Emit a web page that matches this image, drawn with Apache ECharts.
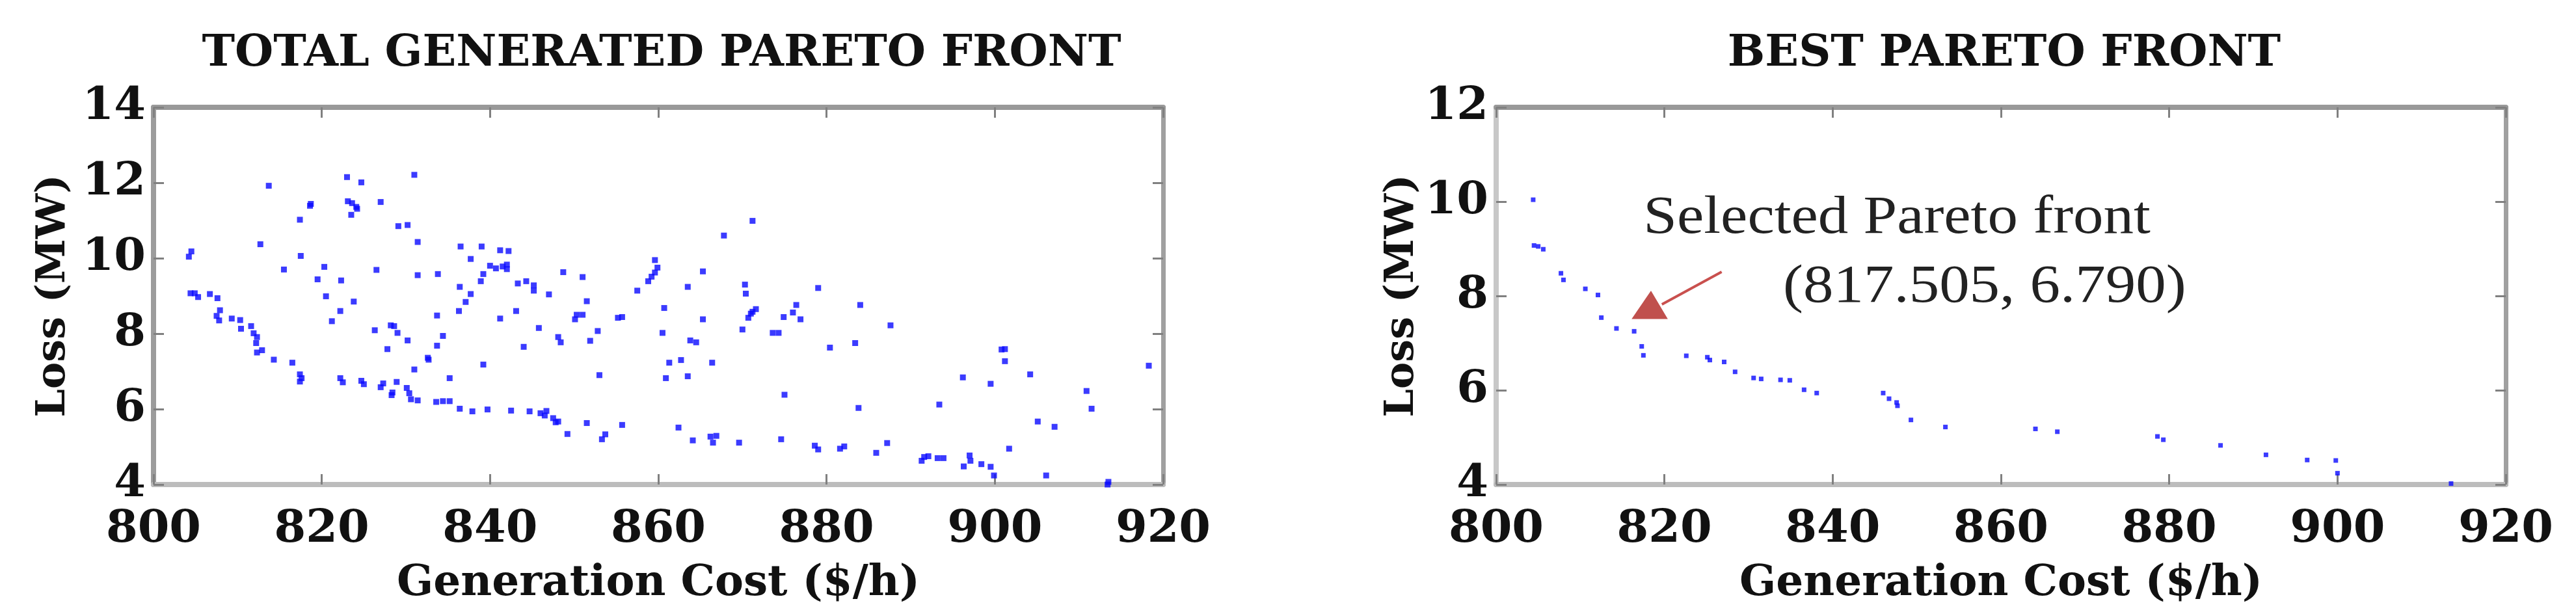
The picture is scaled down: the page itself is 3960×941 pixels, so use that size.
<!DOCTYPE html>
<html>
<head>
<meta charset="utf-8">
<script src="https://cdn.jsdelivr.net/npm/echarts@6.0.0/dist/echarts.min.js"></script>
<style>
  html, body { margin: 0; padding: 0; background: #fff; }
  #main { width: 3960px; height: 941px; }
</style>
</head>
<body>
<div id="main"></div>
<script>
// all generated solutions (left panel)
var totalCost = [
  823.0, 824.7, 831.0, 813.7, 818.7, 818.6, 823.1, 823.6, 824.1, 824.2, 823.5, 827.0, 817.4, 829.1, 830.2, 831.4,
  812.7, 804.2, 804.5, 817.5, 820.3, 815.5, 819.5, 822.3, 826.5, 831.4, 833.8, 836.5, 839.0, 837.7, 841.2, 842.2,
  840.0, 840.7, 841.5, 842.0, 842.0, 839.2, 838.9, 836.4, 837.7, 837.1, 836.3, 843.3, 844.3, 845.2, 845.2, 847.0,
  848.7, 851.0, 851.5, 857.5, 858.8, 859.2, 859.6, 859.9, 859.6, 865.3, 863.5, 867.8, 860.7, 865.3, 860.5, 850.1,
  850.3, 851.0, 855.2, 855.7, 852.8, 851.9, 845.8, 843.1, 841.2, 844.0, 848.1, 848.4, 839.2, 833.7, 834.4, 833.7,
  832.6, 832.7, 831.0, 835.2, 827.8, 826.3, 828.2, 828.6, 829.0, 830.2, 823.8, 820.5, 822.2, 821.2, 804.4, 804.9,
  805.3, 806.7, 807.6, 807.9, 807.5, 807.8, 809.3, 810.3, 810.4, 811.6, 811.9, 812.3, 812.2, 812.3, 812.9, 814.3,
  816.5, 817.4, 817.6, 817.4, 822.2, 822.5, 824.7, 825.0, 827.0, 827.3, 828.3, 828.4, 828.9, 830.1, 830.4, 830.6,
  831.4, 833.6, 834.4, 835.2, 836.4, 837.9, 839.7, 842.5, 844.7, 846.0, 846.5, 846.7, 847.5, 847.8, 848.1, 849.2,
  851.5, 853.3, 853.7, 855.7, 862.4, 864.1, 866.2, 866.9, 866.5, 853.0, 860.9, 863.5, 861.3, 862.7, 866.4, 863.8,
  864.5, 871.2, 870.3, 870.4, 879.0, 870.7, 871.0, 871.2, 871.6, 870.0, 873.6, 874.3, 874.9, 876.0, 876.4, 876.9,
  884.0, 887.6, 880.4, 883.4, 875.0, 883.8, 893.4, 896.2, 899.5, 900.8, 901.2, 901.2, 904.2, 918.3, 910.9, 911.5,
  905.1, 907.1, 901.7, 906.1, 899.9, 899.5, 898.4, 897.0, 897.1, 896.3, 891.3, 891.6, 892.1, 893.2, 893.9, 913.5,
  913.4, 887.2, 885.9, 881.6, 882.1, 878.6, 879.0, 874.6, 869.6
];
var totalLoss = [
  12.15, 12.01, 12.21, 11.92, 11.44, 11.39, 11.51, 11.46, 11.36, 11.31, 11.15, 11.49, 11.02, 10.85, 10.88, 10.43,
  10.37, 10.04, 10.18, 10.06, 9.77, 9.70, 9.44, 9.41, 9.69, 9.55, 9.58, 10.31, 10.31, 9.98, 10.21, 10.19,
  9.80, 9.73, 9.78, 9.83, 9.71, 9.58, 9.39, 9.24, 9.05, 8.84, 8.60, 9.33, 9.39, 9.28, 9.14, 9.04,
  9.63, 9.50, 8.86, 9.14, 9.39, 9.51, 9.62, 9.75, 9.95, 9.65, 9.24, 10.60, 8.68, 8.38, 8.02, 8.38,
  8.50, 8.50, 8.42, 8.44, 8.07, 7.81, 8.15, 8.60, 8.40, 7.65, 7.91, 7.77, 7.18, 8.48, 7.94, 7.68,
  7.36, 7.31, 7.05, 6.82, 7.59, 8.09, 8.22, 8.20, 8.02, 7.82, 8.85, 8.99, 8.60, 8.33, 9.07, 9.07,
  8.97, 9.05, 8.94, 8.62, 8.47, 8.35, 8.40, 8.36, 8.13, 8.20, 8.01, 7.91, 7.75, 7.50, 7.56, 7.31,
  7.23, 6.92, 6.82, 6.73, 6.82, 6.71, 6.75, 6.66, 6.58, 6.68, 6.37, 6.44, 6.72, 6.56, 6.42, 6.26,
  6.23, 6.19, 6.21, 6.21, 6.01, 5.94, 5.99, 5.96, 5.94, 5.89, 5.83, 5.95, 5.76, 5.65, 5.67, 5.34,
  5.63, 5.20, 5.33, 5.58, 5.51, 5.17, 5.27, 5.29, 5.11, 6.90, 6.82, 6.87, 7.23, 7.30, 7.23, 7.82,
  7.77, 10.99, 9.30, 9.06, 9.21, 8.42, 8.53, 8.58, 8.65, 8.11, 8.02, 8.02, 8.44, 8.56, 8.76, 8.38,
  8.76, 8.22, 7.63, 7.75, 6.38, 6.03, 6.12, 6.84, 6.67, 7.58, 7.59, 7.27, 6.92, 7.15, 6.48, 6.01,
  5.67, 5.53, 4.95, 4.24, 4.24, 4.47, 4.54, 4.77, 4.63, 4.48, 4.63, 4.73, 4.75, 4.70, 4.70, 4.07,
  4.00, 5.10, 4.84, 4.95, 5.01, 5.03, 4.93, 5.20, 5.11
];

// best (non-dominated) front (right panel)
var bestCost = [
  804.4, 804.5, 805.0, 805.6, 807.7, 808.0, 810.6, 812.1, 812.5, 814.3, 816.4, 817.3, 817.5, 822.6, 825.1, 825.4,
  827.1, 828.4, 830.6, 831.5, 833.8, 834.9, 836.6, 838.1, 846.0, 846.7, 847.6, 847.7, 849.3, 853.4, 864.1, 866.7,
  878.6, 879.3, 886.1, 891.5, 896.4, 899.8, 900.0, 913.5
];
var bestLoss = [
  10.04, 9.07, 9.05, 8.99, 8.48, 8.34, 8.15, 8.02, 7.54, 7.31, 7.25, 6.93, 6.74, 6.73, 6.70, 6.64,
  6.60, 6.39, 6.26, 6.24, 6.22, 6.21, 6.01, 5.94, 5.94, 5.82, 5.74, 5.67, 5.37, 5.22, 5.18, 5.12,
  5.02, 4.95, 4.83, 4.63, 4.52, 4.51, 4.24, 4.02
];

var titles = ['TOTAL GENERATED PARETO FRONT', 'BEST PARETO FRONT'];
var xTicks = { min: 800, max: 920, step: 20 };
var yTicksLeft = { min: 4, max: 14, step: 2 };
var yTicksRight = { min: 4, max: 12, step: 2 };
var xName = 'Generation Cost ($/h)';
var yName = 'Loss (MW)';

// annotation on right panel, in data units
var noteLines = ['Selected Pareto front', '(817.505, 6.790)'];
var noteAnchors = [[817.5, 9.64], [834.1, 8.17]];
var arrowTail = [826.8, 8.51];
var arrowJoin = [819.7, 7.82];
var arrowHead = [[818.4, 8.11], [816.1, 7.51], [820.4, 7.51]];

function zip(a, b) {
  return a.map(function (v, i) { return [v, b[i]]; });
}

var boldSerif = '"DejaVu Serif", serif';
var tickStyle = { show: true, inside: true, length: 16, lineStyle: { color: '#808080', width: 3 } };

function xAxes(gi) {
  return [
    {
      gridIndex: gi, type: 'value', position: 'bottom',
      min: xTicks.min, max: xTicks.max, interval: xTicks.step,
      name: xName, nameLocation: 'middle', nameGap: 120,
      nameTextStyle: { fontFamily: boldSerif, fontWeight: 'bold', fontSize: 66, color: '#111' },
      axisLine: { show: true, lineStyle: { color: '#bcbcbc', width: 8 } },
      axisTick: tickStyle,
      axisLabel: { fontFamily: boldSerif, fontWeight: 'bold', fontSize: 70, color: '#111', margin: 35 },
      splitLine: { show: false }
    },
    {
      gridIndex: gi, type: 'value', position: 'top',
      min: xTicks.min, max: xTicks.max, interval: xTicks.step,
      axisLine: { show: true, lineStyle: { color: '#999', width: 8 } },
      axisTick: tickStyle,
      axisLabel: { show: false },
      splitLine: { show: false }
    }
  ];
}

function yAxes(gi, ticks, gap, leftColor) {
  return [
    {
      gridIndex: gi, type: 'value', position: 'left',
      min: ticks.min, max: ticks.max, interval: ticks.step,
      name: yName, nameLocation: 'middle', nameGap: gap,
      nameTextStyle: { fontFamily: boldSerif, fontWeight: 'bold', fontSize: 62, color: '#111' },
      axisLine: { show: true, lineStyle: { color: leftColor, width: 8 } },
      axisTick: tickStyle,
      axisLabel: { fontFamily: boldSerif, fontWeight: 'bold', fontSize: 70, color: '#111', margin: 12 },
      splitLine: { show: false }
    },
    {
      gridIndex: gi, type: 'value', position: 'right',
      min: ticks.min, max: ticks.max, interval: ticks.step,
      axisLine: { show: true, lineStyle: { color: '#a0a0a0', width: 7 } },
      axisTick: tickStyle,
      axisLabel: { show: false },
      splitLine: { show: false }
    }
  ];
}

var chart = echarts.init(document.getElementById('main'));

var option = {
  backgroundColor: '#fff',
  animation: false,
  title: [
    { text: titles[0], left: 1012, top: 44, textAlign: 'center',
      textStyle: { fontFamily: boldSerif, fontWeight: 'bold', fontSize: 68, color: '#111' } },
    { text: titles[1], left: 3076, top: 44, textAlign: 'center',
      textStyle: { fontFamily: boldSerif, fontWeight: 'bold', fontSize: 68, color: '#111' } }
  ],
  grid: [
    { left: 236, top: 165, width: 1552, height: 580 },
    { left: 2300, top: 165, width: 1552, height: 580 }
  ],
  xAxis: xAxes(0).concat(xAxes(1)),
  yAxis: yAxes(0, yTicksLeft, 122, '#9c9c9c').concat(yAxes(1, yTicksRight, 111, '#c8c8c8')),
  series: [
    {
      type: 'scatter', xAxisIndex: 0, yAxisIndex: 0,
      symbol: 'rect', symbolSize: 9,
      itemStyle: { color: '#0a0aff' },
      data: zip(totalCost, totalLoss)
    },
    {
      type: 'scatter', xAxisIndex: 2, yAxisIndex: 2,
      symbol: 'rect', symbolSize: 7,
      itemStyle: { color: '#0a0aff' },
      data: zip(bestCost, bestLoss)
    }
  ]
};

chart.setOption(option);

// annotation: placed from data coordinates of the right grid
function toPx(pt) {
  return chart.convertToPixel({ xAxisIndex: 2, yAxisIndex: 2 }, pt);
}

var graphics = [];
var tail = toPx(arrowTail), join = toPx(arrowJoin);
graphics.push({
  type: 'line',
  shape: { x1: tail[0], y1: tail[1], x2: join[0], y2: join[1] },
  style: { stroke: '#c9504e', lineWidth: 4 }
});
graphics.push({
  type: 'polygon',
  shape: { points: arrowHead.map(toPx) },
  style: { fill: '#c0504d' }
});
noteLines.forEach(function (txt, i) {
  var p = toPx(noteAnchors[i]);
  graphics.push({
    type: 'text',
    x: p[0], y: p[1],
    scaleX: 1.12,
    style: {
      text: txt,
      font: '83px "Liberation Serif", serif',
      fill: '#222',
      align: 'left',
      verticalAlign: 'middle'
    }
  });
});
chart.setOption({ graphic: graphics });
</script>
</body>
</html>
